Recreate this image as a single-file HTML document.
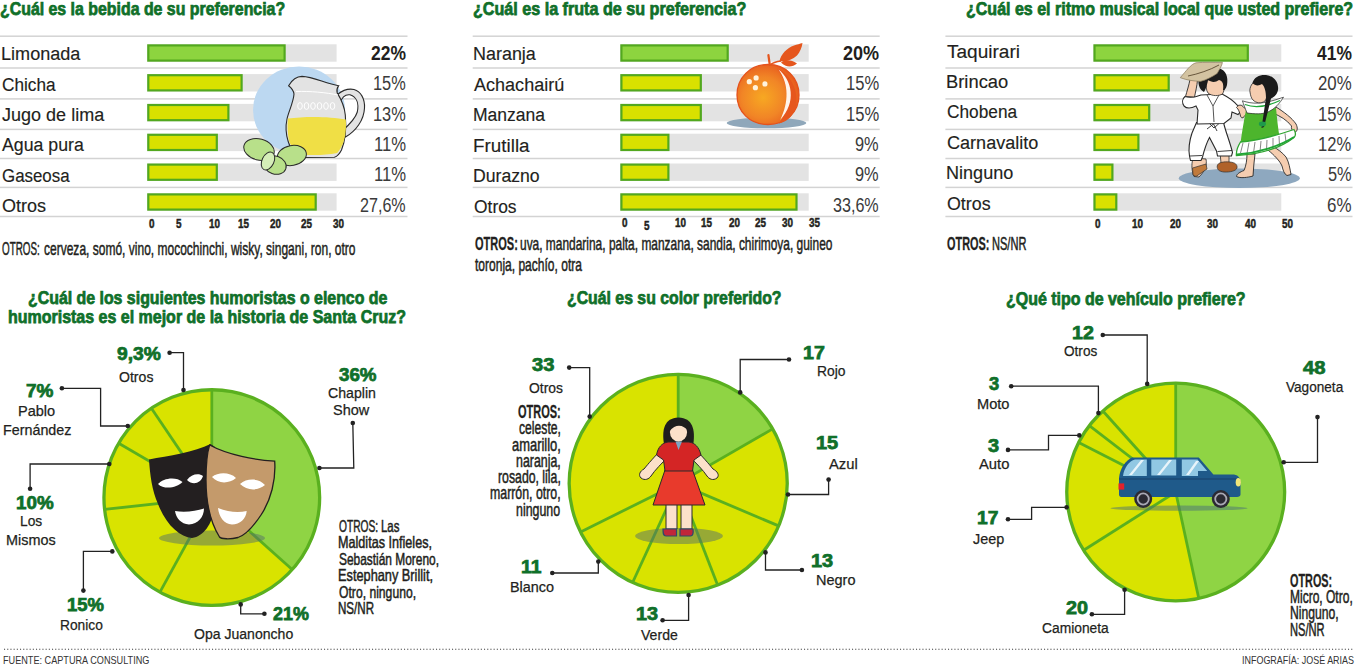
<!DOCTYPE html>
<html><head><meta charset="utf-8"><title>Encuesta</title>
<style>
html,body{margin:0;padding:0;background:#fff;}
body{width:1357px;height:664px;position:relative;overflow:hidden;font-family:"Liberation Sans",sans-serif;color:#231f20;}
svg{position:absolute;left:0;top:0;}
.t{position:absolute;white-space:nowrap;line-height:1;transform-origin:0 0;}
</style></head><body>
<svg width="1357" height="664" viewBox="0 0 1357 664">
<rect x="0.00" y="35.45" width="407.50" height="1.50" fill="#d3d3d3"/>
<rect x="0.00" y="67.25" width="407.50" height="1.50" fill="#d3d3d3"/>
<rect x="0.00" y="98.15" width="407.50" height="1.50" fill="#d3d3d3"/>
<rect x="0.00" y="128.65" width="407.50" height="1.50" fill="#d3d3d3"/>
<rect x="0.00" y="157.75" width="407.50" height="1.50" fill="#d3d3d3"/>
<rect x="0.00" y="186.65" width="407.50" height="1.50" fill="#d3d3d3"/>
<rect x="0.00" y="215.75" width="407.50" height="1.50" fill="#d3d3d3"/>
<rect x="147.20" y="44.30" width="189.40" height="17.40" fill="#e3e3e3"/>
<rect x="147.20" y="74.10" width="189.40" height="17.40" fill="#e3e3e3"/>
<rect x="147.20" y="103.90" width="189.40" height="17.40" fill="#e3e3e3"/>
<rect x="147.20" y="133.70" width="189.40" height="17.40" fill="#e3e3e3"/>
<rect x="147.20" y="163.50" width="189.40" height="17.40" fill="#e3e3e3"/>
<rect x="147.20" y="193.30" width="189.40" height="17.40" fill="#e3e3e3"/>
<rect x="148.30" y="45.40" width="136.30" height="15.20" fill="#8dd43f" stroke="#52a81e" stroke-width="2.2"/>
<rect x="148.30" y="75.20" width="93.30" height="15.20" fill="#d9e100" stroke="#52a81e" stroke-width="2.2"/>
<rect x="148.30" y="105.00" width="80.10" height="15.20" fill="#d9e100" stroke="#52a81e" stroke-width="2.2"/>
<rect x="148.30" y="134.80" width="68.50" height="15.20" fill="#d9e100" stroke="#52a81e" stroke-width="2.2"/>
<rect x="148.30" y="164.60" width="68.50" height="15.20" fill="#d9e100" stroke="#52a81e" stroke-width="2.2"/>
<rect x="148.30" y="194.40" width="167.40" height="15.20" fill="#d9e100" stroke="#52a81e" stroke-width="2.2"/>
<rect x="472.70" y="35.45" width="407.00" height="1.50" fill="#d3d3d3"/>
<rect x="472.70" y="67.25" width="407.00" height="1.50" fill="#d3d3d3"/>
<rect x="472.70" y="98.15" width="407.00" height="1.50" fill="#d3d3d3"/>
<rect x="472.70" y="128.65" width="407.00" height="1.50" fill="#d3d3d3"/>
<rect x="472.70" y="157.75" width="407.00" height="1.50" fill="#d3d3d3"/>
<rect x="472.70" y="186.65" width="407.00" height="1.50" fill="#d3d3d3"/>
<rect x="472.70" y="215.75" width="407.00" height="1.50" fill="#d3d3d3"/>
<rect x="620.30" y="44.30" width="188.40" height="17.40" fill="#e3e3e3"/>
<rect x="620.30" y="74.10" width="188.40" height="17.40" fill="#e3e3e3"/>
<rect x="620.30" y="103.90" width="188.40" height="17.40" fill="#e3e3e3"/>
<rect x="620.30" y="133.70" width="188.40" height="17.40" fill="#e3e3e3"/>
<rect x="620.30" y="163.50" width="188.40" height="17.40" fill="#e3e3e3"/>
<rect x="620.30" y="193.30" width="188.40" height="17.40" fill="#e3e3e3"/>
<rect x="621.40" y="45.40" width="106.30" height="15.20" fill="#8dd43f" stroke="#52a81e" stroke-width="2.2"/>
<rect x="621.40" y="75.20" width="79.40" height="15.20" fill="#d9e100" stroke="#52a81e" stroke-width="2.2"/>
<rect x="621.40" y="105.00" width="79.40" height="15.20" fill="#d9e100" stroke="#52a81e" stroke-width="2.2"/>
<rect x="621.40" y="134.80" width="47.00" height="15.20" fill="#d9e100" stroke="#52a81e" stroke-width="2.2"/>
<rect x="621.40" y="164.60" width="47.00" height="15.20" fill="#d9e100" stroke="#52a81e" stroke-width="2.2"/>
<rect x="621.40" y="194.40" width="175.10" height="15.20" fill="#d9e100" stroke="#52a81e" stroke-width="2.2"/>
<rect x="945.40" y="35.45" width="407.10" height="1.50" fill="#d3d3d3"/>
<rect x="945.40" y="67.25" width="407.10" height="1.50" fill="#d3d3d3"/>
<rect x="945.40" y="98.15" width="407.10" height="1.50" fill="#d3d3d3"/>
<rect x="945.40" y="128.65" width="407.10" height="1.50" fill="#d3d3d3"/>
<rect x="945.40" y="157.75" width="407.10" height="1.50" fill="#d3d3d3"/>
<rect x="945.40" y="186.65" width="407.10" height="1.50" fill="#d3d3d3"/>
<rect x="945.40" y="215.75" width="407.10" height="1.50" fill="#d3d3d3"/>
<rect x="1093.40" y="44.30" width="187.90" height="17.40" fill="#e3e3e3"/>
<rect x="1093.40" y="74.10" width="187.90" height="17.40" fill="#e3e3e3"/>
<rect x="1093.40" y="103.90" width="187.90" height="17.40" fill="#e3e3e3"/>
<rect x="1093.40" y="133.70" width="187.90" height="17.40" fill="#e3e3e3"/>
<rect x="1093.40" y="163.50" width="187.90" height="17.40" fill="#e3e3e3"/>
<rect x="1093.40" y="193.30" width="187.90" height="17.40" fill="#e3e3e3"/>
<rect x="1094.50" y="45.40" width="153.30" height="15.20" fill="#8dd43f" stroke="#52a81e" stroke-width="2.2"/>
<rect x="1094.50" y="75.20" width="74.20" height="15.20" fill="#d9e100" stroke="#52a81e" stroke-width="2.2"/>
<rect x="1094.50" y="105.00" width="54.70" height="15.20" fill="#d9e100" stroke="#52a81e" stroke-width="2.2"/>
<rect x="1094.50" y="134.80" width="43.90" height="15.20" fill="#d9e100" stroke="#52a81e" stroke-width="2.2"/>
<rect x="1094.50" y="164.60" width="17.90" height="15.20" fill="#d9e100" stroke="#52a81e" stroke-width="2.2"/>
<rect x="1094.50" y="194.40" width="21.80" height="15.20" fill="#d9e100" stroke="#52a81e" stroke-width="2.2"/>
<line x1="4" y1="649.2" x2="1354" y2="649.2" stroke="#3a3a3a" stroke-width="1.1" stroke-dasharray="1.1 2.1"/>
<path d="M211.80,497.60 L211.80,389.75 A107.85,107.85 0 0 1 292.15,569.54 Z" fill="#8fd444"/>
<path d="M211.80,497.60 L292.15,569.54 A107.85,107.85 0 0 1 159.93,592.16 Z" fill="#d9e300"/>
<path d="M211.80,497.60 L159.93,592.16 A107.85,107.85 0 0 1 104.60,509.47 Z" fill="#d9e300"/>
<path d="M211.80,497.60 L104.60,509.47 A107.85,107.85 0 0 1 118.69,443.18 Z" fill="#d9e300"/>
<path d="M211.80,497.60 L118.69,443.18 A107.85,107.85 0 0 1 151.40,408.25 Z" fill="#d9e300"/>
<path d="M211.80,497.60 L151.40,408.25 A107.85,107.85 0 0 1 211.80,389.75 Z" fill="#d9e300"/>
<line x1="211.80" y1="497.60" x2="211.80" y2="389.75" stroke="#5ab01f" stroke-width="2.8"/>
<line x1="211.80" y1="497.60" x2="292.15" y2="569.54" stroke="#5ab01f" stroke-width="2.8"/>
<line x1="211.80" y1="497.60" x2="159.93" y2="592.16" stroke="#5ab01f" stroke-width="2.8"/>
<line x1="211.80" y1="497.60" x2="104.60" y2="509.47" stroke="#5ab01f" stroke-width="2.8"/>
<line x1="211.80" y1="497.60" x2="118.69" y2="443.18" stroke="#5ab01f" stroke-width="2.8"/>
<line x1="211.80" y1="497.60" x2="151.40" y2="408.25" stroke="#5ab01f" stroke-width="2.8"/>
<circle cx="211.80" cy="497.60" r="107.85" fill="none" stroke="#5ab01f" stroke-width="3.3"/>
<path d="M678.20,483.40 L678.20,374.35 A109.05,109.05 0 0 1 772.64,428.87 Z" fill="#8fd444"/>
<path d="M678.20,483.40 L772.64,428.87 A109.05,109.05 0 0 1 778.62,525.91 Z" fill="#d9e300"/>
<path d="M678.20,483.40 L778.62,525.91 A109.05,109.05 0 0 1 717.59,585.09 Z" fill="#d9e300"/>
<path d="M678.20,483.40 L717.59,585.09 A109.05,109.05 0 0 1 632.62,582.47 Z" fill="#d9e300"/>
<path d="M678.20,483.40 L632.62,582.47 A109.05,109.05 0 0 1 580.58,532.01 Z" fill="#d9e300"/>
<path d="M678.20,483.40 L580.58,532.01 A109.05,109.05 0 0 1 678.20,374.35 Z" fill="#d9e300"/>
<line x1="678.20" y1="483.40" x2="678.20" y2="374.35" stroke="#5ab01f" stroke-width="2.8"/>
<line x1="678.20" y1="483.40" x2="772.64" y2="428.87" stroke="#5ab01f" stroke-width="2.8"/>
<line x1="678.20" y1="483.40" x2="778.62" y2="525.91" stroke="#5ab01f" stroke-width="2.8"/>
<line x1="678.20" y1="483.40" x2="717.59" y2="585.09" stroke="#5ab01f" stroke-width="2.8"/>
<line x1="678.20" y1="483.40" x2="632.62" y2="582.47" stroke="#5ab01f" stroke-width="2.8"/>
<line x1="678.20" y1="483.40" x2="580.58" y2="532.01" stroke="#5ab01f" stroke-width="2.8"/>
<circle cx="678.20" cy="483.40" r="109.05" fill="none" stroke="#5ab01f" stroke-width="3.3"/>
<path d="M1175.70,492.00 L1175.70,383.05 A108.95,108.95 0 0 1 1198.79,598.48 Z" fill="#8fd444"/>
<path d="M1175.70,492.00 L1198.79,598.48 A108.95,108.95 0 0 1 1083.64,550.27 Z" fill="#d9e300"/>
<path d="M1175.70,492.00 L1083.64,550.27 A108.95,108.95 0 0 1 1078.70,442.39 Z" fill="#d9e300"/>
<path d="M1175.70,492.00 L1078.70,442.39 A108.95,108.95 0 0 1 1089.35,425.57 Z" fill="#d9e300"/>
<path d="M1175.70,492.00 L1089.35,425.57 A108.95,108.95 0 0 1 1102.88,410.96 Z" fill="#d9e300"/>
<path d="M1175.70,492.00 L1102.88,410.96 A108.95,108.95 0 0 1 1175.70,383.05 Z" fill="#d9e300"/>
<line x1="1175.70" y1="492.00" x2="1175.70" y2="383.05" stroke="#5ab01f" stroke-width="2.8"/>
<line x1="1175.70" y1="492.00" x2="1198.79" y2="598.48" stroke="#5ab01f" stroke-width="2.8"/>
<line x1="1175.70" y1="492.00" x2="1083.64" y2="550.27" stroke="#5ab01f" stroke-width="2.8"/>
<line x1="1175.70" y1="492.00" x2="1078.70" y2="442.39" stroke="#5ab01f" stroke-width="2.8"/>
<line x1="1175.70" y1="492.00" x2="1089.35" y2="425.57" stroke="#5ab01f" stroke-width="2.8"/>
<line x1="1175.70" y1="492.00" x2="1102.88" y2="410.96" stroke="#5ab01f" stroke-width="2.8"/>
<circle cx="1175.70" cy="492.00" r="108.95" fill="none" stroke="#5ab01f" stroke-width="3.3"/>
<path d="M169.60,352.70 L183.50,352.70 L183.50,390.00" fill="none" stroke="#222" stroke-width="1.3"/>
<circle cx="169.60" cy="352.70" r="2.3" fill="#222"/>
<circle cx="183.50" cy="390.00" r="2.3" fill="#222"/>
<path d="M61.90,388.30 L100.60,388.30 L100.60,426.00 L127.80,426.00" fill="none" stroke="#222" stroke-width="1.3"/>
<circle cx="61.90" cy="388.30" r="2.3" fill="#222"/>
<circle cx="127.80" cy="426.00" r="2.3" fill="#222"/>
<path d="M352.80,423.00 L353.80,468.00 L319.40,468.00" fill="none" stroke="#222" stroke-width="1.3"/>
<circle cx="352.80" cy="423.00" r="2.3" fill="#222"/>
<circle cx="319.40" cy="468.00" r="2.3" fill="#222"/>
<path d="M109.30,464.00 L30.10,464.00 L30.10,488.80" fill="none" stroke="#222" stroke-width="1.3"/>
<circle cx="109.30" cy="464.00" r="2.3" fill="#222"/>
<circle cx="30.10" cy="488.80" r="2.3" fill="#222"/>
<path d="M112.30,551.40 L83.40,551.40 L83.40,590.60" fill="none" stroke="#222" stroke-width="1.3"/>
<circle cx="112.30" cy="551.40" r="2.3" fill="#222"/>
<circle cx="83.40" cy="590.60" r="2.3" fill="#222"/>
<path d="M240.70,604.40 L240.70,613.80 L264.40,613.80" fill="none" stroke="#222" stroke-width="1.3"/>
<circle cx="240.70" cy="604.40" r="2.3" fill="#222"/>
<circle cx="264.40" cy="613.80" r="2.3" fill="#222"/>
<path d="M569.20,367.60 L589.70,367.60 L589.70,416.60" fill="none" stroke="#222" stroke-width="1.3"/>
<circle cx="569.20" cy="367.60" r="2.3" fill="#222"/>
<circle cx="589.70" cy="416.60" r="2.3" fill="#222"/>
<path d="M789.00,359.50 L740.20,359.50 L740.20,392.40" fill="none" stroke="#222" stroke-width="1.3"/>
<circle cx="789.00" cy="359.50" r="2.3" fill="#222"/>
<circle cx="740.20" cy="392.40" r="2.3" fill="#222"/>
<path d="M788.00,494.50 L828.60,494.50 L828.60,479.60" fill="none" stroke="#222" stroke-width="1.3"/>
<circle cx="788.00" cy="494.50" r="2.3" fill="#222"/>
<circle cx="828.60" cy="479.60" r="2.3" fill="#222"/>
<path d="M765.50,552.40 L765.50,570.00 L801.90,570.00" fill="none" stroke="#222" stroke-width="1.3"/>
<circle cx="765.50" cy="552.40" r="2.3" fill="#222"/>
<circle cx="801.90" cy="570.00" r="2.3" fill="#222"/>
<path d="M552.30,573.00 L598.30,573.00 L598.30,561.60" fill="none" stroke="#222" stroke-width="1.3"/>
<circle cx="552.30" cy="573.00" r="2.3" fill="#222"/>
<circle cx="598.30" cy="561.60" r="2.3" fill="#222"/>
<path d="M688.60,595.00 L688.60,620.30 L662.60,620.30" fill="none" stroke="#222" stroke-width="1.3"/>
<circle cx="688.60" cy="595.00" r="2.3" fill="#222"/>
<circle cx="662.60" cy="620.30" r="2.3" fill="#222"/>
<path d="M1102.80,335.00 L1147.20,335.00 L1147.20,383.90" fill="none" stroke="#222" stroke-width="1.3"/>
<circle cx="1102.80" cy="335.00" r="2.3" fill="#222"/>
<circle cx="1147.20" cy="383.90" r="2.3" fill="#222"/>
<path d="M1011.20,386.20 L1098.40,386.20 L1098.40,413.10" fill="none" stroke="#222" stroke-width="1.3"/>
<circle cx="1011.20" cy="386.20" r="2.3" fill="#222"/>
<circle cx="1098.40" cy="413.10" r="2.3" fill="#222"/>
<path d="M1317.50,417.10 L1317.50,462.30 L1283.70,462.30" fill="none" stroke="#222" stroke-width="1.3"/>
<circle cx="1317.50" cy="417.10" r="2.3" fill="#222"/>
<circle cx="1283.70" cy="462.30" r="2.3" fill="#222"/>
<path d="M1008.00,449.90 L1048.50,449.90 L1048.50,435.40 L1079.30,435.40" fill="none" stroke="#222" stroke-width="1.3"/>
<circle cx="1008.00" cy="449.90" r="2.3" fill="#222"/>
<circle cx="1079.30" cy="435.40" r="2.3" fill="#222"/>
<path d="M1008.00,519.30 L1031.60,519.30 L1031.60,507.30 L1066.60,507.30" fill="none" stroke="#222" stroke-width="1.3"/>
<circle cx="1008.00" cy="519.30" r="2.3" fill="#222"/>
<circle cx="1066.60" cy="507.30" r="2.3" fill="#222"/>
<path d="M1124.60,589.80 L1124.60,614.30 L1091.90,614.30" fill="none" stroke="#222" stroke-width="1.3"/>
<circle cx="1124.60" cy="589.80" r="2.3" fill="#222"/>
<circle cx="1091.90" cy="614.30" r="2.3" fill="#222"/>
<ellipse cx="299" cy="110" rx="46" ry="43.6" fill="#bcd8f1"/>
<path d="M337.5,94.5 C343,90 349,88.5 354,89.5 C361,91.5 365,99 364.5,108 C364,120 356,131 345.5,137 L342,131 C349,125 355.5,118 357.3,112 C359,104 357,97 350,94.8 C345,94 341,98 340,104 Z" fill="#e3e3e3" stroke="#2a2a2a" stroke-width="1.1"/>
<path d="M288.6,85.7 C292,80 297,76.5 302,76.4 C314,76.8 326,84 338.7,85.7 C337,88 336.5,90.5 337.2,92.9 C341,99 344.5,106 345.3,115 C346.5,128 345.5,140 341.5,150 C339.5,154 337,156.5 334.4,157.3 L300,157.5 C294,154 290,148 288.2,141.5 C285.5,133 285.5,126 287,119 C288.5,112 293.5,102 294,94 C293.5,90 291,87.5 288.6,85.7 Z" fill="#e3e3e3" stroke="#2a2a2a" stroke-width="1.1"/>
<path d="M287.9,118.6 C305,116 330,116.5 345.8,119.4 C346.5,128 345.5,137 343,143.5 C341,148 339,151 337.2,153 C325,155.5 312,155.5 301.5,154.4 C294,150 289.5,145 288.6,138.7 C287.5,132 287.3,125 287.9,118.6 Z" fill="#f0df45"/>
<path d="M296,91.5 C310,91 326,92.5 338,95" stroke="#fff" stroke-width="1" fill="none"/>
<ellipse cx="300" cy="106" rx="2.3" ry="3.4" fill="none" stroke="#fff" stroke-width="1"/>
<ellipse cx="306.5" cy="106" rx="2.3" ry="3.4" fill="none" stroke="#fff" stroke-width="1"/>
<ellipse cx="313" cy="106" rx="2.3" ry="3.4" fill="none" stroke="#fff" stroke-width="1"/>
<ellipse cx="319.5" cy="106" rx="2.3" ry="3.4" fill="none" stroke="#fff" stroke-width="1"/>
<ellipse cx="326" cy="106" rx="2.3" ry="3.4" fill="none" stroke="#fff" stroke-width="1"/>
<ellipse cx="332.5" cy="106" rx="2.3" ry="3.4" fill="none" stroke="#fff" stroke-width="1"/>
<ellipse cx="259" cy="149.5" rx="15.5" ry="10.5" transform="rotate(15 259 149.5)" fill="#b8e08a" stroke="#2a2a2a" stroke-width="1"/>
<ellipse cx="291.9" cy="155.5" rx="14.6" ry="10" transform="rotate(-10 291.9 155.5)" fill="#b8e08a" stroke="#2a2a2a" stroke-width="1"/>
<ellipse cx="275" cy="165" rx="11.5" ry="9" transform="rotate(20 275 165)" fill="#b8e08a" stroke="#2a2a2a" stroke-width="1"/>
<ellipse cx="268" cy="161" rx="6" ry="9.5" transform="rotate(25 268 161)" fill="#d5eeb8" stroke="#2a2a2a" stroke-width="1"/>
<defs><radialGradient id="og" cx="0.42" cy="0.55" r="0.62"><stop offset="0" stop-color="#f7a822"/><stop offset="0.55" stop-color="#f18526"/><stop offset="1" stop-color="#e6561d"/></radialGradient></defs>
<ellipse cx="766.5" cy="123" rx="39.8" ry="5.3" fill="#8fa7ba"/>
<path d="M768,64.5 C786,64.5 799,78 799,95 C799,112 786,124.5 768,124.5 C750,124.5 737,112 737,95 C737,78 750,64.5 768,64.5 Z" fill="url(#og)" stroke="#e4521c" stroke-width="1.3"/>
<path d="M777,68.5 C793,75 800,95 795,110 C792,117 786,122 779,123.5 C788,112 793,90 777,68.5 Z" fill="#e6561d"/>
<path d="M778.5,69.5 C792,80 797,102 780.2,120 C789,102 789,84 778.5,69.5 Z" fill="#fff4ea"/>
<circle cx="749.3" cy="81.7" r="2.6" fill="#fff3dc"/>
<circle cx="756.1" cy="77.9" r="2.6" fill="#fff3dc"/>
<circle cx="755.4" cy="87.7" r="2.6" fill="#fff3dc"/>
<circle cx="764.9" cy="83.9" r="2.6" fill="#fff3dc"/>
<path d="M768.4,55 L769.8,65" stroke="#e5561d" stroke-width="2.2" stroke-linecap="round"/>
<path d="M769.5,65 C773,62.5 777,61.5 781,61" stroke="#e5561d" stroke-width="1.3" fill="none"/>
<path d="M779.5,61 C781,54 787,48 794,45.5 C797,44.5 800,43.8 802.5,43 C802,47 800,52 797,55.5 C792,60 786,62 779.5,61 Z" fill="#e5561d"/>
<path d="M781,62.5 C785,59.5 791,59.5 797,63.5 C792,67.5 786,67.5 781,62.5 Z" fill="#e5561d"/>
<ellipse cx="1239.3" cy="178.2" rx="60.5" ry="9.8" fill="#8ea8bf"/>
<g><path d="M1193,158 C1191,165 1192,172 1194,176.5 L1199,177 C1204,172 1207.5,166 1206,159 Z" fill="#f5cdb0" stroke="#2a2a2a" stroke-width="0.8"/><path d="M1192.5,168 L1206,164 L1207,169 L1196,176.5 L1193,175 Z" fill="#c07a3c" stroke="#333" stroke-width="0.7"/><path d="M1220,152 L1221,163 L1229,163 L1229,152 Z" fill="#f5cdb0" stroke="#2a2a2a" stroke-width="0.8"/><path d="M1217.2,166 C1218,162 1224,161.5 1230,162 C1235,162.5 1237.5,164.5 1237,168 C1236,171 1230,172.3 1224,172 C1219,171.5 1217,169.5 1217.2,166 Z" fill="#b0622a" stroke="#333" stroke-width="0.7"/><path d="M1196.5,122.5 L1223.5,122.5 C1226,133 1230,142 1232.5,152.5 L1231.5,156 L1217.5,156 L1216.5,151 L1209.5,137.5 C1206,144 1204,151 1202.5,157 L1201,160.5 L1190.5,160.5 L1189.5,156 C1188.5,150 1189,142 1192,133 Z" fill="#fff" stroke="#2a2a2a" stroke-width="1.1"/><path d="M1190,156 L1202,155.5 M1217.5,151.5 L1232,150.5 M1209,123 L1214,128 L1219,123.5 M1207,129 L1213.5,124 L1217,131" fill="none" stroke="#2a2a2a" stroke-width="0.9"/><path d="M1201,95 L1222,94 C1228,97 1234,101 1238,106 L1242.5,109.5 L1238,114.5 L1232,112 L1231,118 L1224,123.5 L1197,124 L1198,110 L1196,106 C1192,108 1187,109 1184,106 C1182,103 1182,99 1185,96.5 C1190,98 1196,97 1201,95 Z" fill="#fff" stroke="#2a2a2a" stroke-width="1.1"/><path d="M1207,95 L1213,106 L1219,95 M1213,106 L1214,122" fill="none" stroke="#2a2a2a" stroke-width="0.8"/><path d="M1185.5,96.5 C1187,91 1189,85 1190,79.5 C1192,77 1196,77 1197.5,80 C1197,86 1195.5,92 1194.5,97 Z" fill="#f5cdb0" stroke="#2a2a2a" stroke-width="0.9"/><path d="M1206.6,83 C1207,78 1214,77 1221,79 C1225,82 1225,90 1222.5,94 C1219,96 1212,96.5 1208,93 C1206,90 1206,86 1206.6,83 Z" fill="#f5cdb0" stroke="#2a2a2a" stroke-width="0.8"/><path d="M1198.5,80 C1200,72 1210,67.5 1219,68.5 C1226,70 1228.5,77 1227,85 C1226,89 1224,91 1223,90 C1224,85 1223,81 1219,80 C1215,83 1211,82 1208,80 C1207,85 1206,89 1204,92 C1200,90 1198,85 1198.5,80 Z" fill="#1b1b1b"/><path d="M1180.3,77.7 C1186,71 1191,64 1196,62.8 C1204,62 1214,62.5 1222.4,62.4 C1222,66 1219,70 1217.2,73.4 C1212,77 1206,80 1200.3,81.4 C1194,81 1188,80.5 1180.3,77.7 Z" fill="#d3c3a1" stroke="#8a7a5c" stroke-width="0.7"/><path d="M1188,76 C1198,74 1210,70 1219,65" fill="none" stroke="#5a4a30" stroke-width="0.9"/><path d="M1247,154 C1247,160 1246,166 1244,170.5 C1240,172 1236.5,174 1236.5,176.5 C1240,178.5 1248,177.5 1253,176 C1253.5,169 1254,161 1255,154 Z" fill="#f5cdb0" stroke="#2a2a2a" stroke-width="0.9"/><path d="M1268,150 C1274,155 1280,161 1282,166 C1283,170 1284,174 1287,175.5 L1291,174.5 C1290,169 1289,162 1286,157 C1282,152 1277,149 1274,147 Z" fill="#f5cdb0" stroke="#2a2a2a" stroke-width="0.9"/><path d="M1276,107 C1284,112 1292,118 1296,124 C1298,128 1297.5,131 1295,132.5 C1292,131 1291,128 1291.5,126 C1287,120 1280,116 1273,113 Z" fill="#f5cdb0" stroke="#2a2a2a" stroke-width="0.9"/><path d="M1247,113 C1244,117 1242,120 1240.5,116 C1239.5,112 1238.5,109 1236.5,107.5 C1238,105 1241,104.5 1243,106.5 C1245,109 1247,110 1249,110 Z" fill="#f5cdb0" stroke="#2a2a2a" stroke-width="0.9"/><path d="M1249,113 C1247,118 1245.5,121 1245.5,124 L1249,126 L1253,116 Z" fill="#f5cdb0" stroke="#2a2a2a" stroke-width="0.8"/><path d="M1246,110 L1276,108 C1277,118 1278,128 1279.5,137 C1270,140 1255,142.5 1240.5,143 C1242,132 1244,120 1246,110 Z" fill="#4db52d"/><path d="M1240.5,142 C1255,141 1275,136 1294,129.5 C1296,133 1295.5,136 1294,137.5 C1282,147 1262,154 1236.4,155.5 C1236,151 1238,146 1240.5,142 Z" fill="#fff" stroke="#2fa530" stroke-width="1.3"/><path d="M1243,143 L1240.5,153 M1249,142.5 L1247,153.5 M1255,142 L1253.5,153 M1261,141 L1260,152 M1267,140 L1266.5,150 M1273,138 L1273,148 M1279,136 L1279.5,146 M1285,133.5 L1286,142" fill="none" stroke="#333" stroke-width="0.6"/><path d="M1237,154.5 C1258,153 1280,146 1294,137" fill="none" stroke="#1fa535" stroke-width="1.8"/><path d="M1242.4,100.8 C1252,104 1262,105 1283.5,97.2 C1280,103 1275,109 1268,112 C1262,114.5 1255,114 1247,113 C1245,108 1243.5,104 1242.4,100.8 Z" fill="#fff" stroke="#222" stroke-width="0.7"/><path d="M1245,104.5 C1254,108 1264,108 1280,100.5" fill="none" stroke="#20a83a" stroke-width="1.3"/><path d="M1252,84 C1250,87 1249.5,90 1250,92 C1250.5,95 1251,98 1253,100 C1256,103 1261,104 1265,101 C1268,97 1268,90 1266,84 C1262,80 1256,80 1252,84 Z" fill="#f5cdb0" stroke="#2a2a2a" stroke-width="0.8"/><path d="M1252.4,83 C1254,77 1260,74.5 1266,75 C1274,76 1279,82 1278,90 C1277,95 1274,97 1271,98.5 L1264,127 L1261.5,128 L1266,98 C1266,92 1265,87 1262,84 C1259,86 1255,86 1252.4,83 Z" fill="#1b1b1b"/><ellipse cx="1262.4" cy="124" rx="3.6" ry="2.4" fill="#1d9a4a"/></g>
<ellipse cx="212" cy="538" rx="53" ry="7.5" fill="#55706a" fill-opacity="0.5"/>
<path d="M149,459.4 C168,456 195,452 210.5,444 L215,447 L216,500 C214,520 206,536 192,538 C180,537 166,525 158,504 C152,490 150,475 149,459.4 Z" fill="#231f20"/>
<path d="M158,484 C163,478 176,476 182.5,482 C177,488 164,490 158,484 Z M187,480 C191,474 199,473 203,476 C201,483 193,486 187,480 Z" fill="#fff"/>
<path d="M175,511 C185,513 196,511 204,508.5 C204,517 198,524 189,524.5 C181,524 176,518 175,511 Z" fill="#fff"/>
<path d="M209.6,445 C228,455 255,460 274.7,461.2 C276,480 271,500 261,515 C253,527 246,535 238,537.5 C230,539.5 221,539 219.5,537 C212,525 206,505 206,480 C206,466 207,453 209.6,445 Z" fill="#c49a6b" stroke="#231f20" stroke-width="1.3"/>
<path d="M212,477 C218,472 230,472 236,478 C229,484 218,484 212,477 Z M240,484 C247,478 259,478 265,485 C258,491 247,491 240,484 Z" fill="#fff"/>
<path d="M218,508 C228,512 238,513 246.7,511 C246,519 240,524.5 232,524.5 C224,524 219,517 218,508 Z" fill="#fff"/>
<ellipse cx="679" cy="536" rx="44" ry="8" fill="#55706a" fill-opacity="0.5"/>
<path d="M663.8,443 C662,430 664,418 678.5,417.5 C693,418 695,430 693.5,443 Z" fill="#1e1e1e"/>
<path d="M662,449 C655,456 648,464 644,469 C640,471 638,475 641,478 C645,481 649,479 651,476 C655,470 662,463 668,457 Z M695,449 C702,456 709,464 713,469 C717,471 720,475 717,478 C713,481 709,479 707,476 C703,470 696,463 690,457 Z" fill="#fce1ca" stroke="#2a2a2a" stroke-width="1"/>
<path d="M666,504 L666,529 L677,529 L677,504 Z M681,504 L681,529 L692,529 L692,504 Z" fill="#fce1ca" stroke="#2a2a2a" stroke-width="1"/>
<path d="M663,529 C663,533 663,536 666,536 L676.5,536 L676.5,529 Z M680,529 L680,536 L690.5,536 C693,536 693.5,533 693,529 Z" fill="#c0263a" stroke="#2c4a6a" stroke-width="1.2"/>
<path d="M665,470 L692.5,470 L705,505 L653,505 Z" fill="#e83a2c" stroke="#2a2a2a" stroke-width="1"/>
<path d="M668,442 L689,442 C695,443 699,447 701,455 L694,460 L692.5,471 L665,471 L663.5,460 L656.5,455 C658,447 662,443 668,442 Z" fill="#d42525" stroke="#2a2a2a" stroke-width="1"/>
<path d="M675.5,441.5 L678.5,450 L682,441.5 Z" fill="#7da4c3"/>
<ellipse cx="678.5" cy="432" rx="8.6" ry="9.5" fill="#fce1ca"/>
<path d="M669.5,431 C669,421 673,418 678.5,418 C686,418 688.5,423 688,431 C684,425 676,423 669.5,431 Z" fill="#1e1e1e"/>
<ellipse cx="1179" cy="508.2" rx="68.5" ry="2.6" fill="#4a7078" fill-opacity="0.5"/>
<path d="M1119,478 C1120,468 1126,460 1132,457.4 L1198.8,457.4 L1213.4,474.4 L1234,474.4 C1239,475 1240.5,479 1240.5,483 L1240.5,494.5 C1240.5,496 1239,497 1237,497 L1121,497 C1120,497 1119,496 1119,494.5 Z" fill="#1f5a8a"/>
<path d="M1119,478 L1240,478 L1240,480 L1119,480 Z" fill="#1b4d7a"/>
<path d="M1123,476 C1124,468 1129,461 1135,459.5 L1146.8,459.5 L1146.8,476 Z" fill="#91c8e3"/>
<rect x="1151.3" y="459.5" width="24.9" height="16" fill="#91c8e3"/>
<path d="M1181.8,459.5 L1197.5,459.5 L1207.2,471 L1198,471 L1198,476 L1181.8,476 Z" fill="#91c8e3"/>
<path d="M1129,475 L1141,460 L1144,460 L1132,475 Z M1157,475 L1169,460 L1172,460 L1160,475 Z M1186,475 L1196,461 L1199,461 L1189,475 Z" fill="#e8f4fa"/>
<rect x="1118.5" y="483.4" width="5.7" height="6.2" fill="#e3222b"/>
<ellipse cx="1238.3" cy="482.3" rx="2.6" ry="4.3" fill="#f1e67a"/>
<circle cx="1143.2" cy="499" r="9" fill="#2b2a33"/>
<circle cx="1143.2" cy="499" r="5.6" fill="none" stroke="#a9a9b5" stroke-width="1.8"/>
<circle cx="1143.2" cy="499" r="2.6" fill="#2b2a33"/>
<circle cx="1220.8" cy="499" r="9" fill="#2b2a33"/>
<circle cx="1220.8" cy="499" r="5.6" fill="none" stroke="#a9a9b5" stroke-width="1.8"/>
<circle cx="1220.8" cy="499" r="2.6" fill="#2b2a33"/>
</svg>
<div class="t" style="left:0.54px;top:45.02px;font-size:18.8px;transform:scale(0.9629,1.0000);-webkit-text-stroke:0.15px #231f20;">Limonada</div>
<div class="t" style="left:1.50px;top:75.52px;font-size:18.8px;transform:scale(0.9150,1.0000);-webkit-text-stroke:0.15px #231f20;">Chicha</div>
<div class="t" style="left:1.50px;top:106.02px;font-size:18.8px;transform:scale(0.9594,1.0000);-webkit-text-stroke:0.15px #231f20;">Jugo de lima</div>
<div class="t" style="left:1.50px;top:136.42px;font-size:18.8px;transform:scale(0.9435,1.0000);-webkit-text-stroke:0.15px #231f20;">Agua pura</div>
<div class="t" style="left:1.50px;top:166.82px;font-size:18.8px;transform:scale(0.8993,1.0000);-webkit-text-stroke:0.15px #231f20;">Gaseosa</div>
<div class="t" style="left:1.50px;top:197.32px;font-size:18.8px;transform:scale(0.9599,1.0000);-webkit-text-stroke:0.15px #231f20;">Otros</div>
<div class="t" style="left:370.70px;top:42.58px;font-size:20.5px;font-weight:bold;transform:scale(0.8529,1.0000);">22%</div>
<div class="t" style="left:373.00px;top:72.78px;font-size:20.5px;color:#3a3a3a;transform:scale(0.7964,1.0000);">15%</div>
<div class="t" style="left:373.00px;top:103.78px;font-size:20.5px;color:#3a3a3a;transform:scale(0.7964,1.0000);">13%</div>
<div class="t" style="left:373.59px;top:133.97px;font-size:20.5px;color:#3a3a3a;transform:scale(0.8124,1.0000);">11%</div>
<div class="t" style="left:373.59px;top:164.38px;font-size:20.5px;color:#3a3a3a;transform:scale(0.8124,1.0000);">11%</div>
<div class="t" style="left:360.01px;top:194.77px;font-size:20.5px;color:#3a3a3a;transform:scale(0.7856,1.0000);">27,6%</div>
<div class="t" style="left:148.71px;top:216.51px;font-size:13.4px;font-weight:bold;transform:scale(0.7400,1.0000);-webkit-text-stroke:0.5px #231f20;">0</div>
<div class="t" style="left:176.04px;top:216.51px;font-size:13.4px;font-weight:bold;transform:scale(0.7400,1.0000);-webkit-text-stroke:0.5px #231f20;">5</div>
<div class="t" style="left:209.05px;top:216.51px;font-size:13.4px;font-weight:bold;transform:scale(0.7400,1.0000);-webkit-text-stroke:0.5px #231f20;">10</div>
<div class="t" style="left:238.38px;top:216.51px;font-size:13.4px;font-weight:bold;transform:scale(0.7400,1.0000);-webkit-text-stroke:0.5px #231f20;">15</div>
<div class="t" style="left:270.25px;top:216.51px;font-size:13.4px;font-weight:bold;transform:scale(0.7400,1.0000);-webkit-text-stroke:0.5px #231f20;">20</div>
<div class="t" style="left:300.78px;top:216.51px;font-size:13.4px;font-weight:bold;transform:scale(0.7400,1.0000);-webkit-text-stroke:0.5px #231f20;">25</div>
<div class="t" style="left:332.65px;top:216.51px;font-size:13.4px;font-weight:bold;transform:scale(0.7400,1.0000);-webkit-text-stroke:0.5px #231f20;">30</div>
<div class="t" style="left:473.24px;top:45.42px;font-size:18.8px;transform:scale(0.9552,1.0000);-webkit-text-stroke:0.15px #231f20;">Naranja</div>
<div class="t" style="left:474.20px;top:76.02px;font-size:18.8px;transform:scale(0.9603,1.0000);-webkit-text-stroke:0.15px #231f20;">Achachairú</div>
<div class="t" style="left:473.27px;top:106.42px;font-size:18.8px;transform:scale(0.9334,1.0000);-webkit-text-stroke:0.15px #231f20;">Manzana</div>
<div class="t" style="left:473.20px;top:136.82px;font-size:18.8px;transform:scale(1.0034,1.0000);-webkit-text-stroke:0.15px #231f20;">Frutilla</div>
<div class="t" style="left:473.26px;top:167.22px;font-size:18.8px;transform:scale(0.9390,1.0000);-webkit-text-stroke:0.15px #231f20;">Durazno</div>
<div class="t" style="left:474.20px;top:197.62px;font-size:18.8px;transform:scale(0.9269,1.0000);-webkit-text-stroke:0.15px #231f20;">Otros</div>
<div class="t" style="left:842.80px;top:42.58px;font-size:20.5px;font-weight:bold;transform:scale(0.8823,1.0000);">20%</div>
<div class="t" style="left:845.79px;top:72.78px;font-size:20.5px;color:#3a3a3a;transform:scale(0.8090,1.0000);">15%</div>
<div class="t" style="left:845.79px;top:103.78px;font-size:20.5px;color:#3a3a3a;transform:scale(0.8090,1.0000);">15%</div>
<div class="t" style="left:855.30px;top:133.97px;font-size:20.5px;color:#3a3a3a;transform:scale(0.7993,1.0000);">9%</div>
<div class="t" style="left:855.30px;top:164.38px;font-size:20.5px;color:#3a3a3a;transform:scale(0.7993,1.0000);">9%</div>
<div class="t" style="left:833.30px;top:194.77px;font-size:20.5px;color:#3a3a3a;transform:scale(0.7859,1.0000);">33,6%</div>
<div class="t" style="left:621.91px;top:216.31px;font-size:13.4px;font-weight:bold;transform:scale(0.7400,1.0000);-webkit-text-stroke:0.5px #231f20;">0</div>
<div class="t" style="left:644.14px;top:218.91px;font-size:13.4px;font-weight:bold;transform:scale(0.7400,1.0000);-webkit-text-stroke:0.5px #231f20;">5</div>
<div class="t" style="left:674.85px;top:216.31px;font-size:13.4px;font-weight:bold;transform:scale(0.7400,1.0000);-webkit-text-stroke:0.5px #231f20;">10</div>
<div class="t" style="left:701.18px;top:216.31px;font-size:13.4px;font-weight:bold;transform:scale(0.7400,1.0000);-webkit-text-stroke:0.5px #231f20;">15</div>
<div class="t" style="left:728.95px;top:216.31px;font-size:13.4px;font-weight:bold;transform:scale(0.7400,1.0000);-webkit-text-stroke:0.5px #231f20;">20</div>
<div class="t" style="left:754.58px;top:216.31px;font-size:13.4px;font-weight:bold;transform:scale(0.7400,1.0000);-webkit-text-stroke:0.5px #231f20;">25</div>
<div class="t" style="left:782.25px;top:216.31px;font-size:13.4px;font-weight:bold;transform:scale(0.7400,1.0000);-webkit-text-stroke:0.5px #231f20;">30</div>
<div class="t" style="left:808.68px;top:216.31px;font-size:13.4px;font-weight:bold;transform:scale(0.7400,1.0000);-webkit-text-stroke:0.5px #231f20;">35</div>
<div class="t" style="left:946.90px;top:42.52px;font-size:18.8px;transform:scale(1.0134,1.0000);-webkit-text-stroke:0.15px #231f20;">Taquirari</div>
<div class="t" style="left:945.92px;top:72.62px;font-size:18.8px;transform:scale(0.9769,1.0000);-webkit-text-stroke:0.15px #231f20;">Brincao</div>
<div class="t" style="left:946.90px;top:103.42px;font-size:18.8px;transform:scale(0.9194,1.0000);-webkit-text-stroke:0.15px #231f20;">Chobena</div>
<div class="t" style="left:946.90px;top:134.02px;font-size:18.8px;transform:scale(0.9624,1.0000);-webkit-text-stroke:0.15px #231f20;">Carnavalito</div>
<div class="t" style="left:945.94px;top:164.42px;font-size:18.8px;transform:scale(0.9618,1.0000);-webkit-text-stroke:0.15px #231f20;">Ninguno</div>
<div class="t" style="left:946.90px;top:195.22px;font-size:18.8px;transform:scale(0.9489,1.0000);-webkit-text-stroke:0.15px #231f20;">Otros</div>
<div class="t" style="left:1316.80px;top:42.58px;font-size:20.5px;font-weight:bold;transform:scale(0.8504,1.0000);">41%</div>
<div class="t" style="left:1317.98px;top:72.78px;font-size:20.5px;color:#3a3a3a;transform:scale(0.8216,1.0000);">20%</div>
<div class="t" style="left:1318.49px;top:103.78px;font-size:20.5px;color:#3a3a3a;transform:scale(0.8090,1.0000);">15%</div>
<div class="t" style="left:1318.49px;top:133.97px;font-size:20.5px;color:#3a3a3a;transform:scale(0.8090,1.0000);">12%</div>
<div class="t" style="left:1328.00px;top:164.38px;font-size:20.5px;color:#3a3a3a;transform:scale(0.7993,1.0000);">5%</div>
<div class="t" style="left:1327.17px;top:194.77px;font-size:20.5px;color:#3a3a3a;transform:scale(0.8274,1.0000);">6%</div>
<div class="t" style="left:1094.91px;top:216.51px;font-size:13.4px;font-weight:bold;transform:scale(0.7400,1.0000);-webkit-text-stroke:0.5px #231f20;">0</div>
<div class="t" style="left:1132.35px;top:216.51px;font-size:13.4px;font-weight:bold;transform:scale(0.7400,1.0000);-webkit-text-stroke:0.5px #231f20;">10</div>
<div class="t" style="left:1169.75px;top:216.51px;font-size:13.4px;font-weight:bold;transform:scale(0.7400,1.0000);-webkit-text-stroke:0.5px #231f20;">20</div>
<div class="t" style="left:1207.15px;top:216.51px;font-size:13.4px;font-weight:bold;transform:scale(0.7400,1.0000);-webkit-text-stroke:0.5px #231f20;">30</div>
<div class="t" style="left:1244.95px;top:216.51px;font-size:13.4px;font-weight:bold;transform:scale(0.7400,1.0000);-webkit-text-stroke:0.5px #231f20;">40</div>
<div class="t" style="left:1281.85px;top:216.51px;font-size:13.4px;font-weight:bold;transform:scale(0.7400,1.0000);-webkit-text-stroke:0.5px #231f20;">50</div>
<div class="t" style="left:0.14px;top:-0.12px;font-size:18.5px;font-weight:bold;color:#10702a;transform:scale(0.8586,1.0000);-webkit-text-stroke:0.75px #10702a;">¿Cuál es la bebida de su preferencia?</div>
<div class="t" style="left:472.93px;top:-0.12px;font-size:18.5px;font-weight:bold;color:#10702a;transform:scale(0.8717,1.0000);-webkit-text-stroke:0.75px #10702a;">¿Cuál es la fruta de su preferencia?</div>
<div class="t" style="left:966.13px;top:-0.12px;font-size:18.5px;font-weight:bold;color:#10702a;transform:scale(0.8656,1.0000);-webkit-text-stroke:0.75px #10702a;">¿Cuál es el ritmo musical local que usted prefiere?</div>
<div class="t" style="left:1.80px;top:239.35px;font-size:19.0px;transform:scale(0.5185,1.0000);-webkit-text-stroke:0.5px #231f20;">OTROS:</div>
<div class="t" style="left:43.80px;top:239.35px;font-size:19.0px;transform:scale(0.6322,1.0000);-webkit-text-stroke:0.5px #231f20;">cerveza, somó, vino, mocochinchi, wisky, singani, ron, otro</div>
<div class="t" style="left:474.80px;top:234.53px;font-size:18.2px;font-weight:bold;transform:scale(0.6057,1.0000);-webkit-text-stroke:0.3px #231f20;">OTROS:</div>
<div class="t" style="left:519.64px;top:234.53px;font-size:18.2px;transform:scale(0.6561,1.0000);-webkit-text-stroke:0.5px #231f20;">uva, mandarina, palta, manzana, sandia, chirimoya, guineo</div>
<div class="t" style="left:474.80px;top:255.53px;font-size:18.2px;transform:scale(0.6609,1.0000);-webkit-text-stroke:0.5px #231f20;">toronja, pachío, otra</div>
<div class="t" style="left:946.80px;top:235.30px;font-size:18.0px;font-weight:bold;transform:scale(0.6058,1.0000);-webkit-text-stroke:0.3px #231f20;">OTROS:</div>
<div class="t" style="left:991.59px;top:235.30px;font-size:18.0px;transform:scale(0.6145,1.0000);-webkit-text-stroke:0.5px #231f20;">NS/NR</div>
<div class="t" style="left:27.73px;top:289.44px;font-size:18.3px;font-weight:bold;color:#10702a;transform:scale(0.8691,1.0000);-webkit-text-stroke:0.75px #10702a;">¿Cuál de los siguientes humoristas o elenco de</div>
<div class="t" style="left:7.63px;top:308.05px;font-size:18.3px;font-weight:bold;color:#10702a;transform:scale(0.8743,1.0000);-webkit-text-stroke:0.75px #10702a;">humoristas es el mejor de la historia de Santa Cruz?</div>
<div class="t" style="left:567.13px;top:289.44px;font-size:18.3px;font-weight:bold;color:#10702a;transform:scale(0.8655,1.0000);-webkit-text-stroke:0.75px #10702a;">¿Cuál es su color preferido?</div>
<div class="t" style="left:1005.93px;top:290.05px;font-size:18.3px;font-weight:bold;color:#10702a;transform:scale(0.8733,1.0000);-webkit-text-stroke:0.75px #10702a;">¿Qué tipo de vehículo prefiere?</div>
<div class="t" style="left:2.70px;top:655.23px;font-size:11.5px;color:#333;transform:scale(0.7935,1.0000);">FUENTE: CAPTURA CONSULTING</div>
<div class="t" style="left:1241.72px;top:655.23px;font-size:11.5px;color:#333;transform:scale(0.7792,1.0000);">INFOGRAFÍA: JOSÉ ARIAS</div>
<div class="t" style="left:117.00px;top:345.27px;font-size:18.5px;font-weight:bold;color:#10702a;transform:scale(1.0379,1.0000);-webkit-text-stroke:0.75px #10702a;">9,3%</div>
<div class="t" style="left:119.00px;top:369.08px;font-size:15.2px;transform:scale(0.9271,1.0000);-webkit-text-stroke:0.25px #231f20;">Otros</div>
<div class="t" style="left:26.30px;top:381.88px;font-size:18.5px;font-weight:bold;color:#10702a;transform:scale(1.0232,1.0000);-webkit-text-stroke:0.75px #10702a;">7%</div>
<div class="t" style="left:18.24px;top:403.08px;font-size:15.2px;transform:scale(0.9573,1.0000);-webkit-text-stroke:0.25px #231f20;">Pablo</div>
<div class="t" style="left:2.76px;top:421.78px;font-size:15.2px;transform:scale(0.9421,1.0000);-webkit-text-stroke:0.25px #231f20;">Fernández</div>
<div class="t" style="left:339.00px;top:366.27px;font-size:18.5px;font-weight:bold;color:#10702a;transform:scale(1.0115,1.0000);-webkit-text-stroke:0.75px #10702a;">36%</div>
<div class="t" style="left:327.50px;top:385.08px;font-size:15.2px;transform:scale(0.9304,1.0000);-webkit-text-stroke:0.25px #231f20;">Chaplin</div>
<div class="t" style="left:332.70px;top:402.08px;font-size:15.2px;transform:scale(0.9547,1.0000);-webkit-text-stroke:0.25px #231f20;">Show</div>
<div class="t" style="left:16.49px;top:494.17px;font-size:18.5px;font-weight:bold;color:#10702a;transform:scale(1.0147,1.0000);-webkit-text-stroke:0.75px #10702a;">10%</div>
<div class="t" style="left:19.59px;top:512.88px;font-size:15.2px;transform:scale(0.9082,1.0000);-webkit-text-stroke:0.25px #231f20;">Los</div>
<div class="t" style="left:5.65px;top:531.58px;font-size:15.2px;transform:scale(0.9494,1.0000);-webkit-text-stroke:0.25px #231f20;">Mismos</div>
<div class="t" style="left:66.80px;top:596.48px;font-size:18.5px;font-weight:bold;color:#10702a;transform:scale(0.9978,1.0000);-webkit-text-stroke:0.75px #10702a;">15%</div>
<div class="t" style="left:59.89px;top:617.38px;font-size:15.2px;transform:scale(0.9077,1.0000);-webkit-text-stroke:0.25px #231f20;">Ronico</div>
<div class="t" style="left:272.80px;top:604.88px;font-size:18.5px;font-weight:bold;color:#10702a;transform:scale(0.9678,1.0000);-webkit-text-stroke:0.75px #10702a;">21%</div>
<div class="t" style="left:194.20px;top:625.68px;font-size:15.2px;transform:scale(0.9252,1.0000);-webkit-text-stroke:0.25px #231f20;">Opa Juanoncho</div>
<div class="t" style="left:338.60px;top:517.98px;font-size:16.5px;transform:scale(0.6191,1.0000);-webkit-text-stroke:0.5px #231f20;">OTROS:</div>
<div class="t" style="left:381.11px;top:517.98px;font-size:16.5px;transform:scale(0.6942,1.0000);-webkit-text-stroke:0.5px #231f20;">Las</div>
<div class="t" style="left:337.83px;top:534.48px;font-size:16.5px;transform:scale(0.7650,1.0000);-webkit-text-stroke:0.5px #231f20;">Malditas Infieles,</div>
<div class="t" style="left:338.60px;top:550.98px;font-size:16.5px;transform:scale(0.7222,1.0000);-webkit-text-stroke:0.5px #231f20;">Sebastián Moreno,</div>
<div class="t" style="left:337.83px;top:567.48px;font-size:16.5px;transform:scale(0.7733,1.0000);-webkit-text-stroke:0.5px #231f20;">Estephany Brillit,</div>
<div class="t" style="left:338.60px;top:583.98px;font-size:16.5px;transform:scale(0.7367,1.0000);-webkit-text-stroke:0.5px #231f20;">Otro, ninguno,</div>
<div class="t" style="left:337.90px;top:600.48px;font-size:16.5px;transform:scale(0.7021,1.0000);-webkit-text-stroke:0.5px #231f20;">NS/NR</div>
<div class="t" style="left:532.30px;top:356.27px;font-size:18.5px;font-weight:bold;color:#10702a;transform:scale(1.0893,1.0000);-webkit-text-stroke:0.75px #10702a;">33</div>
<div class="t" style="left:528.70px;top:380.38px;font-size:15.2px;transform:scale(0.9138,1.0000);-webkit-text-stroke:0.25px #231f20;">Otros</div>
<div class="t" style="left:803.14px;top:344.27px;font-size:18.5px;font-weight:bold;color:#10702a;transform:scale(1.0628,1.0000);-webkit-text-stroke:0.75px #10702a;">17</div>
<div class="t" style="left:816.89px;top:363.08px;font-size:15.2px;transform:scale(0.9131,1.0000);-webkit-text-stroke:0.25px #231f20;">Rojo</div>
<div class="t" style="left:816.42px;top:433.77px;font-size:18.5px;font-weight:bold;color:#10702a;transform:scale(1.0783,1.0000);-webkit-text-stroke:0.75px #10702a;">15</div>
<div class="t" style="left:829.00px;top:455.58px;font-size:15.2px;transform:scale(0.9736,1.0000);-webkit-text-stroke:0.25px #231f20;">Azul</div>
<div class="t" style="left:810.52px;top:551.57px;font-size:18.5px;font-weight:bold;color:#10702a;transform:scale(1.0783,1.0000);-webkit-text-stroke:0.75px #10702a;">13</div>
<div class="t" style="left:815.55px;top:571.88px;font-size:15.2px;transform:scale(0.9544,1.0000);-webkit-text-stroke:0.25px #231f20;">Negro</div>
<div class="t" style="left:520.56px;top:557.88px;font-size:18.5px;font-weight:bold;color:#10702a;transform:scale(1.0401,1.0000);-webkit-text-stroke:0.75px #10702a;">11</div>
<div class="t" style="left:509.55px;top:578.78px;font-size:15.2px;transform:scale(0.9491,1.0000);-webkit-text-stroke:0.25px #231f20;">Blanco</div>
<div class="t" style="left:636.23px;top:605.27px;font-size:18.5px;font-weight:bold;color:#10702a;transform:scale(1.0732,1.0000);-webkit-text-stroke:0.75px #10702a;">13</div>
<div class="t" style="left:640.80px;top:627.08px;font-size:15.2px;transform:scale(0.9276,1.0000);-webkit-text-stroke:0.25px #231f20;">Verde</div>
<div class="t" style="left:517.70px;top:402.94px;font-size:18.3px;font-weight:bold;transform:scale(0.6014,1.0000);-webkit-text-stroke:0.3px #231f20;">OTROS:</div>
<div class="t" style="left:518.60px;top:419.25px;font-size:18.3px;transform:scale(0.6653,1.0000);-webkit-text-stroke:0.5px #231f20;">celeste,</div>
<div class="t" style="left:511.70px;top:435.55px;font-size:18.3px;transform:scale(0.7073,1.0000);-webkit-text-stroke:0.5px #231f20;">amarillo,</div>
<div class="t" style="left:515.82px;top:451.84px;font-size:18.3px;transform:scale(0.6767,1.0000);-webkit-text-stroke:0.5px #231f20;">naranja,</div>
<div class="t" style="left:497.73px;top:468.14px;font-size:18.3px;transform:scale(0.6717,1.0000);-webkit-text-stroke:0.5px #231f20;">rosado, lila,</div>
<div class="t" style="left:489.93px;top:484.44px;font-size:18.3px;transform:scale(0.6747,1.0000);-webkit-text-stroke:0.5px #231f20;">marrón, otro,</div>
<div class="t" style="left:515.82px;top:500.74px;font-size:18.3px;transform:scale(0.6776,1.0000);-webkit-text-stroke:0.5px #231f20;">ninguno</div>
<div class="t" style="left:1072.44px;top:324.27px;font-size:18.5px;font-weight:bold;color:#10702a;transform:scale(1.0628,1.0000);-webkit-text-stroke:0.75px #10702a;">12</div>
<div class="t" style="left:1064.40px;top:343.08px;font-size:15.2px;transform:scale(0.8951,1.0000);-webkit-text-stroke:0.25px #231f20;">Otros</div>
<div class="t" style="left:988.70px;top:374.88px;font-size:18.5px;font-weight:bold;color:#10702a;transform:scale(0.9900,1.0000);-webkit-text-stroke:0.75px #10702a;">3</div>
<div class="t" style="left:977.14px;top:395.78px;font-size:15.2px;transform:scale(0.9623,1.0000);-webkit-text-stroke:0.25px #231f20;">Moto</div>
<div class="t" style="left:1302.90px;top:359.38px;font-size:18.5px;font-weight:bold;color:#10702a;transform:scale(1.0942,1.0000);-webkit-text-stroke:0.75px #10702a;">48</div>
<div class="t" style="left:1286.20px;top:379.28px;font-size:15.2px;transform:scale(0.8952,1.0000);-webkit-text-stroke:0.25px #231f20;">Vagoneta</div>
<div class="t" style="left:988.20px;top:436.67px;font-size:18.5px;font-weight:bold;color:#10702a;transform:scale(1.0800,1.0000);-webkit-text-stroke:0.75px #10702a;">3</div>
<div class="t" style="left:978.80px;top:456.48px;font-size:15.2px;transform:scale(0.9741,1.0000);-webkit-text-stroke:0.25px #231f20;">Auto</div>
<div class="t" style="left:976.96px;top:508.98px;font-size:18.5px;font-weight:bold;color:#10702a;transform:scale(1.0369,1.0000);-webkit-text-stroke:0.75px #10702a;">17</div>
<div class="t" style="left:972.60px;top:530.88px;font-size:15.2px;transform:scale(0.9481,1.0000);-webkit-text-stroke:0.25px #231f20;">Jeep</div>
<div class="t" style="left:1065.50px;top:599.27px;font-size:18.5px;font-weight:bold;color:#10702a;transform:scale(1.0696,1.0000);-webkit-text-stroke:0.75px #10702a;">20</div>
<div class="t" style="left:1042.30px;top:620.48px;font-size:15.2px;transform:scale(0.9095,1.0000);-webkit-text-stroke:0.25px #231f20;">Camioneta</div>
<div class="t" style="left:1290.40px;top:573.07px;font-size:17.8px;font-weight:bold;transform:scale(0.6098,1.0000);-webkit-text-stroke:0.3px #231f20;">OTROS:</div>
<div class="t" style="left:1289.72px;top:589.22px;font-size:17.8px;transform:scale(0.6753,1.0000);-webkit-text-stroke:0.5px #231f20;">Micro, Otro,</div>
<div class="t" style="left:1289.72px;top:605.37px;font-size:17.8px;transform:scale(0.6846,1.0000);-webkit-text-stroke:0.5px #231f20;">Ninguno,</div>
<div class="t" style="left:1289.77px;top:621.52px;font-size:17.8px;transform:scale(0.6259,1.0000);-webkit-text-stroke:0.5px #231f20;">NS/NR</div>
</body></html>
